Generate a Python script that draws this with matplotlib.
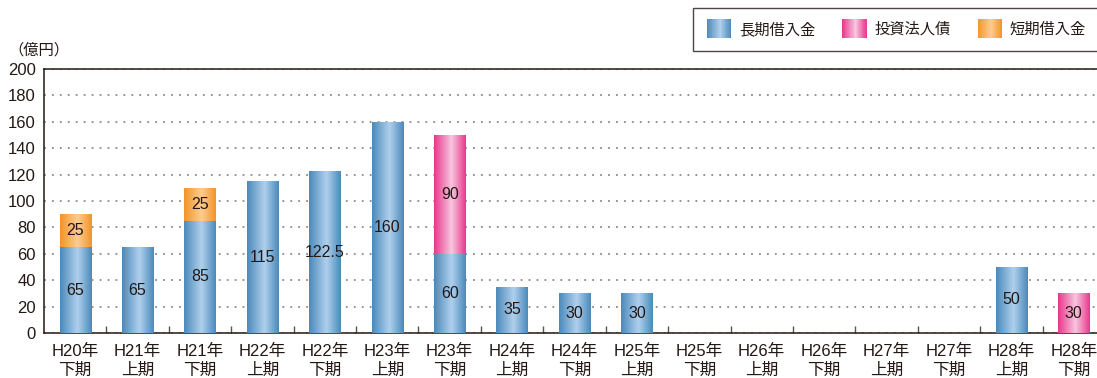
import numpy as np
import matplotlib
matplotlib.use("Agg")
import matplotlib.pyplot as plt
from matplotlib.colors import LinearSegmentedColormap
from matplotlib.patches import Rectangle
from matplotlib.legend_handler import HandlerBase

plt.rcParams['font.family'] = ['Liberation Sans', 'Noto Sans CJK JP', 'DejaVu Sans']

categories = ["H20年\n下期", "H21年\n上期", "H21年\n下期", "H22年\n上期", "H22年\n下期",
              "H23年\n上期", "H23年\n下期", "H24年\n上期", "H24年\n下期", "H25年\n上期",
              "H25年\n下期", "H26年\n上期", "H26年\n下期", "H27年\n上期", "H27年\n下期",
              "H28年\n上期", "H28年\n下期"]
long_term = [65, 65, 85, 115, 122.5, 160, 60, 35, 30, 30, 0, 0, 0, 0, 0, 50, 0]
bonds = [0, 0, 0, 0, 0, 0, 90, 0, 0, 0, 0, 0, 0, 0, 0, 0, 30]
short_term = [25, 0, 25, 0, 0, 0, 0, 0, 0, 0, 0, 0, 0, 0, 0, 0, 0]
series_names = ["長期借入金", "投資法人債", "短期借入金"]
yticks = [0, 20, 40, 60, 80, 100, 120, 140, 160, 180, 200]

grad = {
    "長期借入金": ("#4a89ba", "#b0d0ed"),
    "投資法人債": ("#e8378c", "#f8c6df"),
    "短期借入金": ("#f39427", "#fccd90"),
}
cmaps = {k: LinearSegmentedColormap.from_list(k, [(0, e), (0.55, m), (1, e)]) for k, (e, m) in grad.items()}
txt = "#231815"

fig = plt.figure(figsize=(10.97, 3.78), dpi=100)
ax = fig.add_axes([44/1097, 45/378, 1061/1097, 264/378])

x = np.arange(len(categories))
gradient = np.linspace(0, 1, 256).reshape(1, -1)
bottom = np.zeros(len(categories))
for name, vals in zip(series_names, [long_term, bonds, short_term]):
    vals = np.array(vals, dtype=float)
    bars = ax.bar(x, vals, width=0.5, bottom=bottom, color=grad[name][0], linewidth=0, zorder=2)
    for b, v in zip(bars, vals):
        if v <= 0:
            continue
        x0, y0, w, h = b.get_x(), b.get_y(), b.get_width(), b.get_height()
        im = ax.imshow(gradient, cmap=cmaps[name], extent=(x0, x0 + w, y0, y0 + h),
                       aspect='auto', interpolation='bilinear', zorder=3)
        im.set_clip_path(b)
        lab = ("%g" % v)
        ax.text(x0 + w/2, y0 + h/2, lab, ha='center', va='center', fontsize=11.5,
                color=txt, zorder=4)
    bottom += vals

ax.set_xlim(-0.5, len(categories) - 0.5)
ax.set_ylim(0, 200)
ax.set_yticks(yticks)
ax.set_yticklabels([str(t) for t in yticks], fontsize=12, color=txt)
ax.set_xticks(x)
ax.set_xticklabels(categories, fontsize=12, color=txt, linespacing=1.3)
ax.tick_params(axis='x', which='major', length=0, pad=8)
ax.tick_params(axis='y', length=0, pad=6)
ax.set_xticks(x[:-1] + 0.5, minor=True)
ax.tick_params(axis='x', which='minor', direction='in', length=5, width=1, color='#555')

ax.yaxis.grid(True, linestyle=(0, (1.2, 4)), color='#777', linewidth=1.1, zorder=0)
ax.set_axisbelow(True)
for s in ['left', 'bottom', 'top']:
    ax.spines[s].set_color('#231815')
    ax.spines[s].set_linewidth(1.1)
ax.spines['right'].set_visible(False)

fig.text(8/1097, 1 - 50/378, "（億円）", fontsize=11, color=txt, va='center', ha='left',
         family=['Noto Sans CJK JP', 'DejaVu Sans'])


class GradHandler(HandlerBase):
    def __init__(self, cmap):
        super().__init__()
        self.cmap = cmap

    def create_artists(self, legend, orig_handle, xdescent, ydescent, width, height, fontsize, trans):
        n = 30
        arts = []
        for i in range(n):
            c = self.cmap((i + 0.5) / n)
            r = Rectangle((-xdescent + width * i / n, -ydescent - 2), width / n * 1.05, height + 4,
                          facecolor=c, edgecolor='none', transform=trans)
            arts.append(r)
        return arts


handles = [Rectangle((0, 0), 1, 1) for _ in series_names]
hmap = {h: GradHandler(cmaps[n]) for h, n in zip(handles, series_names)}
leg = fig.legend(handles, series_names, handler_map=hmap, ncol=3,
                 loc='upper left', bbox_to_anchor=(693/1097, 1 - 8/378),
                 frameon=True, fancybox=False, fontsize=11,
                 handlelength=1.6, handleheight=1.0, handletextpad=0.52, columnspacing=1.75,
                 borderpad=0.9, borderaxespad=0)
leg.get_frame().set_edgecolor('#231815')
leg.get_frame().set_linewidth(1.0)
for t in leg.get_texts():
    t.set_color(txt)

fig.savefig("out.png", dpi=100)
